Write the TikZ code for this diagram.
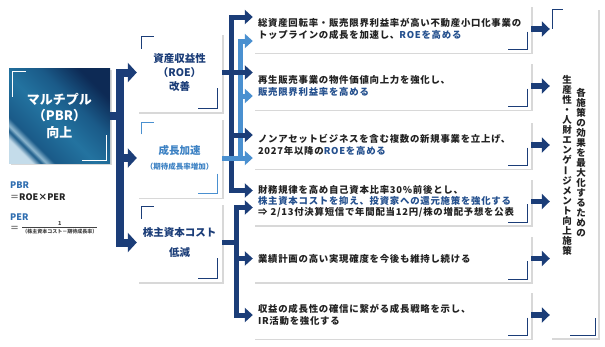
\documentclass[tikz,border=0pt]{standalone}
\usepackage{fontspec}
\usepackage{graphicx}
\usepackage{amsmath}
\setmainfont{Noto Sans CJK JP}
\usetikzlibrary{arrows.meta,calc,shadows}

\definecolor{navy}{HTML}{1B3D78}
\definecolor{skyb}{HTML}{4A90D0}
\definecolor{txtb}{HTML}{24508E}
\definecolor{lblue}{HTML}{3D82C4}
\definecolor{pbrb}{HTML}{2E6DB0}
\definecolor{ink}{HTML}{222222}
\definecolor{pbrA}{HTML}{C4DCEA}
\definecolor{pbrB}{HTML}{8FB8D0}
\definecolor{pbrC}{HTML}{1A5A88}
\definecolor{pbrE}{HTML}{2373A0}
\definecolor{pbrD}{HTML}{0D2A55}
\pgfdeclarehorizontalshading{pbrshade}{100bp}{color(0bp)=(pbrA); color(23bp)=(pbrA); color(26bp)=(pbrC); color(28bp)=(pbrB); color(31bp)=(pbrC); color(46bp)=(pbrE); color(60bp)=(pbrC); color(74bp)=(pbrD); color(100bp)=(pbrD)}

\begin{document}
\begin{tikzpicture}[x=1pt,y=-1pt,
    box/.style={fill=white, drop shadow={shadow xshift=1.5pt,shadow yshift=-1.5pt,opacity=.3,fill=gray}},
    pbrbox/.style={shade, shading=pbrshade, shading angle=45, minimum width=101pt, minimum height=95pt,
      drop shadow={shadow xshift=1.5pt,shadow yshift=-1.5pt,opacity=.3,fill=gray},
      text=white, align=center, font=\bfseries\fontsize{13}{16.5}\selectfont},
    midbox/.style={box, minimum width=85pt, minimum height=79pt, align=center, text=navy,
      font=\bfseries\fontsize{10.5}{14}\selectfont},
    actbox/.style={box, minimum width=278pt, minimum height=47pt, inner sep=5pt, text width=268pt,
      align=left, text=ink, font=\bfseries\fontsize{9.4}{12}\selectfont\addfontfeatures{LetterSpace=8}},
    goalbox/.style={box, minimum width=48pt, minimum height=330pt},
    vtext/.style={inner sep=0pt, align=center, text=ink, font=\bfseries\fontsize{9.5}{10}\selectfont},
    brk/.style={draw=#1, line width=1.2pt},
    bigarrow/.style={navy, line width=8pt, line join=miter, -{Triangle[length=9pt,width=19pt]}},
    darrow/.style={navy, line width=5pt, line join=miter, -{Triangle[length=8pt,width=14pt]}},
    larrow/.style={skyb, line width=5pt, line join=miter, -{Triangle[length=8pt,width=14pt]}},
    goarrow/.style={navy, line width=5.5pt, -{Triangle[length=8pt,width=15pt]}}]

\path[use as bounding box, fill=white] (0,0) rectangle (605,346);

% 左：PBR
\node[pbrbox] (L) at (59.5,115.5) {マルチプル\\（PBR）\\向上};
\draw[brk=white] ($(L.north west)+(4,29)$) -- ++(0,-25) -- ++(13,0);
\draw[brk=white] ($(L.south east)+(-4,-28)$) -- ++(0,25) -- ++(-24,0);

% 式
\node[anchor=west, inner sep=0pt, text=pbrb, font=\bfseries\fontsize{9}{9}\selectfont] (pbr) at (10,185) {PBR};
\node[anchor=west, inner sep=0pt, text=ink, font=\bfseries\fontsize{9}{9}\selectfont] (pbrf) at (10,197) {{\color{gray}＝}ROE×PER};
\node[anchor=west, inner sep=0pt, text=pbrb, font=\bfseries\fontsize{9}{9}\selectfont] (per) at (10,217) {PER};
\node[anchor=west, inner sep=0pt, text=gray, font=\bfseries\fontsize{9}{9}\selectfont] (pereq) at (10,229) {＝};
\node[anchor=west, inner sep=0pt, text=ink!85] (perf) at (21,228)
  {$\genfrac{}{}{1.2pt}{}{\text{\bfseries\fontsize{5.5}{6}\selectfont 1}}{\text{\bfseries\fontsize{5}{6}\selectfont（株主資本コスト－期待成長率）}}$};

% 中段
\node[midbox] (M1) at (179.5,72.5) {資産収益性\\（ROE）\\改善};
\node[midbox, text=lblue] (M2) at (179.5,158) {成長加速\\[1pt]{\fontsize{7.5}{9}\selectfont（期待成長率増加）}};
\node[midbox] (M3) at (179.5,242.5) {株主資本コスト\\[6pt]低減};
\draw[brk=navy] ($(M1.north west)+(5,16)$) -- ++(0,-12) -- ++(12,0);
\draw[brk=navy] ($(M1.south east)+(-5,-24)$) -- ++(0,20) -- ++(-19,0);
\draw[brk=skyb] ($(M2.north west)+(5,16)$) -- ++(0,-12) -- ++(12,0);
\draw[brk=skyb] ($(M2.south east)+(-5,-24)$) -- ++(0,20) -- ++(-19,0);
\draw[brk=navy] ($(M3.north west)+(5,16)$) -- ++(0,-12) -- ++(12,0);
\draw[brk=navy] ($(M3.south east)+(-5,-24)$) -- ++(0,20) -- ++(-19,0);

% 右：施策
\node[actbox] (R1) at (392,29) {総資産回転率・販売限界利益率が高い不動産小口化事業の\\トップラインの成長を加速し、\textcolor{txtb}{ROEを高める}};
\node[actbox] (R2) at (392,86) {再生販売事業の物件価値向上力を強化し、\\\textcolor{txtb}{販売限界利益率を高める}};
\node[actbox] (R3) at (392,145) {ノンアセットビジネスを含む複数の新規事業を立上げ、\\2027年以降の\textcolor{txtb}{ROEを高める}};
\node[actbox, font=\bfseries\fontsize{9.4}{11}\selectfont\addfontfeatures{LetterSpace=8}] (R4) at (392,201.5)
  {財務規律を高め自己資本比率30\%前後とし、\\\textcolor{txtb}{株主資本コストを抑え、投資家への還元施策を強化する}\\⇒ 2/13付決算短信で年間配当12円/株の増配予想を公表};
\node[actbox] (R5) at (392,258.5) {業績計画の高い実現確度を今後も維持し続ける};
\node[actbox] (R6) at (392,315) {収益の成長性の確信に繋がる成長戦略を示し、\\IR活動を強化する};
\foreach \i in {1,...,6}
  \draw[brk=navy] ($(R\i.south east)+(-4,-21)$) -- ++(0,18) -- ++(-19,0);

% 最右
\node[goalbox] (B) at (574,173) {};
\draw[brk=navy] ($(B.north west)+(3,21)$) -- ++(0,-19) -- ++(10,0);
\draw[brk=navy] ($(B.south east)+(-3,-20)$) -- ++(0,17) -- ++(-25,0);
\node[vtext, anchor=north] (v1) at ($(B.north)+(7,80)$)
  {各\\施\\策\\の\\効\\果\\を\\最\\大\\化\\す\\る\\た\\め\\の};
\node[vtext, anchor=north] (v2) at ($(B.north)+(-7,67)$)
  {生\\産\\性\\・\\人\\財\\エ\\ン\\ゲ\\\rotatebox[origin=c]{90}{ー}\\ジ\\メ\\ン\\ト\\向\\上\\施\\策};

% 矢印：左→中段
\coordinate (jL) at ($(L.east)+(10,0)$);
\draw[bigarrow] (L.east) -- (jL) |- (M1.west);
\draw[bigarrow] (jL) |- (M3.west);
\draw[bigarrow] (jL |- M2.west) -- (M2.west);

% 矢印：中段→施策
\coordinate (jA) at ($(M1.east)+(9,0)$);
\coordinate (jB) at ($(M2.east)+(18,0)$);
\coordinate (jC) at ($(M3.east)+(14,0)$);
\coordinate (r3a) at ([yshift=10pt]R3.west);
\draw[darrow] (jA) |- ([yshift=12pt]R1.west);
\draw[darrow] (jA) |- ([yshift=11pt]R4.west);
\draw[larrow] (M2.east) -- (M2.east -| R3.west);
\draw[larrow] (jB) |- ([yshift=-12pt]R1.west);
\draw[larrow] (jB) |- ([yshift=-10pt]R2.west);
\draw[darrow] (M1.east) -- (M1.east -| R2.west);
\draw[darrow] (jA |- r3a) -- (r3a);
\draw[darrow] (M3.east) -- (jC) |- ([yshift=-6pt]R4.west);
\draw[darrow] (jC) |- (R6.west);
\draw[darrow] (jC |- R5.west) -- (R5.west);

% 矢印：施策→最右
\foreach \i in {1,...,6}
  \draw[goarrow] (R\i.east) -- (R\i.east -| B.west);
\end{tikzpicture}
\end{document}
